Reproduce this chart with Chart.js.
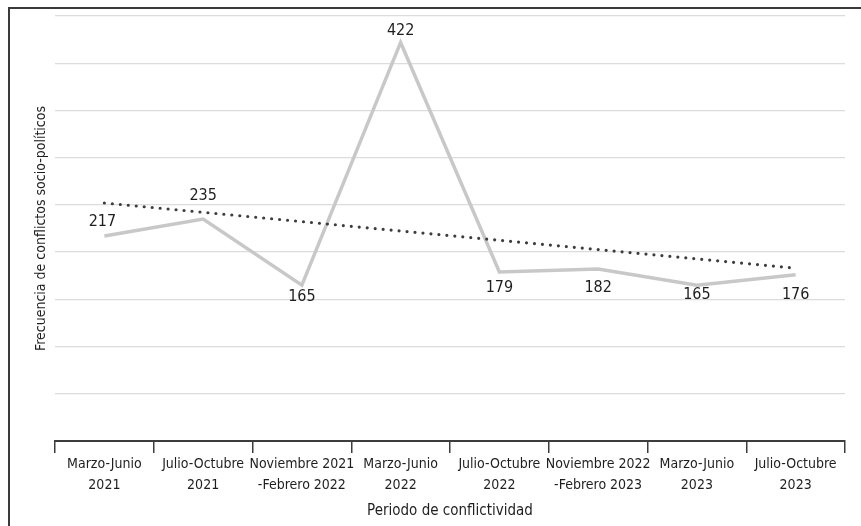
<!DOCTYPE html>
<html>
<head>
<meta charset="utf-8">
<script src="https://cdn.jsdelivr.net/npm/chart.js@4"></script>
<style>
  html, body { margin: 0; padding: 0; background: #fff; overflow: hidden; width: 861px; height: 526px; }
  #frame { position: absolute; left: 8px; top: 7px; width: 851px; height: 517px;
           border-left: 2px solid #3a3a3a; border-top: 2px solid #3a3a3a; }
  #wrap { position: relative; width: 851px; height: 517px; }
</style>
</head>
<body>
<div id="frame"><div id="wrap"><canvas id="c"></canvas></div></div>
<script>
const categories = [
  ["Marzo-Junio", "2021"],
  ["Julio-Octubre", "2021"],
  ["Noviembre 2021", "-Febrero 2022"],
  ["Marzo-Junio", "2022"],
  ["Julio-Octubre", "2022"],
  ["Noviembre 2022", "-Febrero 2023"],
  ["Marzo-Junio", "2023"],
  ["Julio-Octubre", "2023"]
];
const conflictos = [217, 235, 165, 422, 179, 182, 165, 176];
// trend line endpoints (straight dotted line)
const tendencia = [252, null, null, null, null, null, null, 183];
const yTitle = "Frecuencia de conflictos socio-políticos";
const xTitle = "Periodo de conflictividad";

const FONT = '"Liberation Sans Narrow", "DejaVu Sans Condensed", "Open Sans", sans-serif';

const labelPlugin = {
  id: 'pointLabels',
  afterDatasetsDraw(chart, args, opts) {
    const ctx = chart.ctx;
    const meta = chart.getDatasetMeta(0);
    const ds = chart.data.datasets[0];
    ctx.save();
    ctx.font = opts.font;
    ctx.fillStyle = opts.color;
    ctx.textAlign = 'center';
    ctx.textBaseline = 'middle';
    meta.data.forEach((pt, i) => {
      ctx.fillText(String(ds.data[i]), pt.x + opts.dx[i], pt.y + opts.offsets[i]);
    });
    ctx.restore();
  }
};

new Chart(document.getElementById('c'), {
  type: 'line',
  data: {
    labels: categories,
    datasets: [
      {
        data: conflictos,
        borderColor: '#c8c8c8',
        borderWidth: 3.5,
        pointRadius: 0,
        tension: 0,
        order: 2
      },
      {
        data: tendencia,
        borderColor: '#3d3d3d',
        borderWidth: 3.2,
        borderDash: [0, 8],
        borderCapStyle: 'round',
        spanGaps: true,
        pointRadius: 0,
        tension: 0,
        order: 1
      }
    ]
  },
  options: {
    responsive: true,
    maintainAspectRatio: false,
    animation: false,
    layout: { padding: { top: 7, right: 16, left: 0, bottom: 0 } },
    plugins: {
      legend: { display: false },
      tooltip: { enabled: false },
      pointLabels: {
        font: '16px ' + FONT,
        color: '#1e1e1e',
        offsets: [-14, -23, 12, -12, 16, 19, 10, 20],
        dx: [-2, 0, 0, 0, 0, 0, 0, 0]
      }
    },
    scales: {
      x: {
        offset: true,
        grid: {
          display: true,
          offset: true,
          drawOnChartArea: false,
          drawTicks: true,
          tickLength: 12,
          color: '#3d3d3d',
          lineWidth: 1.5
        },
        border: { display: true, color: '#3d3d3d', width: 2 },
        ticks: {
          color: '#1e1e1e',
          font: { family: FONT, size: 14, lineHeight: 1.5 },
          padding: 1,
          maxRotation: 0,
          autoSkip: false
        },
        title: {
          display: true,
          text: xTitle,
          color: '#1e1e1e',
          font: { family: FONT, size: 15, lineHeight: 1.2 },
          padding: { top: 0, bottom: 6 }
        },
        afterFit(scale) { scale.height = 85; }
      },
      y: {
        min: 0,
        max: 450,
        ticks: { display: false, stepSize: 50 },
        grid: { color: '#dcdcdc', lineWidth: 1.3, drawTicks: false },
        border: { display: false },
        title: {
          display: true,
          text: yTitle,
          color: '#1e1e1e',
          font: { family: FONT, size: 14, lineHeight: 1.2 },
          padding: { top: 23, bottom: 0 }
        },
        afterFit(scale) { scale.width = 45; }
      }
    }
  },
  plugins: [labelPlugin]
});
</script>
</body>
</html>
